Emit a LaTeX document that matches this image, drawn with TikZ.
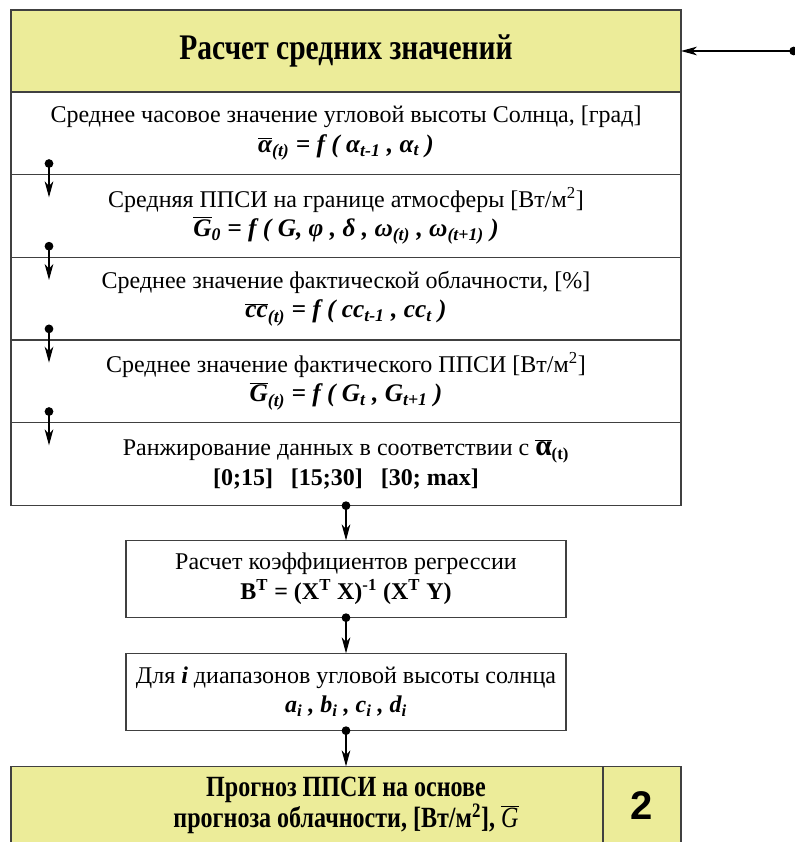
\documentclass[tikz,border=0pt]{standalone}
\usepackage{fontspec}
\setmainfont{Liberation Serif}
\newfontfamily\narrowfont{Liberation Serif}[FakeStretch=0.82]
\newfontfamily\digitfont{Liberation Sans}
\usetikzlibrary{positioning,arrows.meta}
\definecolor{headfill}{RGB}{236,236,153}
\newcommand{\ovl}[1]{$\overline{\hbox{#1}}$}
\newcommand{\sub}[1]{\textsubscript{#1}}

\begin{document}
\begin{tikzpicture}[x=0.75pt,y=-0.75pt,
    font=\fontsize{18}{22}\selectfont,
    every node/.style={inner sep=0pt, outer sep=0pt, align=center},
    bigbox/.style={draw=black!75, line width=0.9pt, minimum width=502.5pt},
    head/.style={bigbox, fill=headfill, minimum height=61.5pt, font=\narrowfont\bfseries\fontsize{27}{30}\selectfont},
    rowbox/.style={bigbox, minimum height=62pt},
    calcbox/.style={draw=black!75, line width=0.9pt, minimum width=330pt, minimum height=57.75pt},
    conn/.style={line width=0.8pt, shorten <=-3pt, {Circle[length=6.5pt]}-{Stealth[length=12pt,width=6.5pt,inset=3.5pt]}}]
    \useasboundingbox (0,0) rectangle (795,842);

    \node[head] (header) at (346,51) {Расчет средних значений};
    \node[rowbox, below=0pt of header] (r1) {Среднее часовое значение угловой высоты Солнца, [град]\\
        {\bfseries\itshape\fontsize{19}{22}\selectfont \ovl{α}\sub{(t)} = f ( α\sub{t-1} , α\sub{t} )}};
    \node[rowbox, below=0pt of r1] (r2) {Средняя ППСИ на границе атмосферы [Вт/м\textsuperscript{2}]\\
        {\bfseries\itshape\fontsize{19}{22}\selectfont \ovl{G}\sub{0} = f ( G, φ , δ , ω\sub{(t)} , ω\sub{(t+1)} )}};
    \node[rowbox, below=0pt of r2] (r3) {Среднее значение фактической облачности, [\%]\\
        {\bfseries\itshape\fontsize{19}{22}\selectfont \ovl{cc}\sub{(t)} = f ( cc\sub{t-1} , cc\sub{t} )}};
    \node[rowbox, below=0pt of r3] (r4) {Среднее значение фактического ППСИ [Вт/м\textsuperscript{2}]\\
        {\bfseries\itshape\fontsize{19}{22}\selectfont \ovl{G}\sub{(t)} = f ( G\sub{t} , G\sub{t+1} )}};
    \node[rowbox, below=0pt of r4] (r5) {Ранжирование данных в соответствии с {\fontsize{22}{22}\selectfont\ovl{\bfseries α}}\sub{\bfseries (t)}\\
        \textbf{[0;15] \ \ [15;30] \ \ [30; max]}};

    \node[calcbox, below=26.25pt of r5] (reg) {Расчет коэффициентов регрессии\\
        \textbf{B\textsuperscript{T} = (X\textsuperscript{T} X)\textsuperscript{-1} (X\textsuperscript{T} Y)}};
    \node[calcbox, below=27pt of reg] (rng) {Для \textbf{\textit{i}} диапазонов угловой высоты солнца\\
        {\bfseries\itshape a\sub{i} , b\sub{i} , c\sub{i} , d\sub{i}}};
    \node[bigbox, fill=headfill, minimum height=58.5pt, below=27pt of rng,
        font=\narrowfont\bfseries\fontsize{22}{21}\selectfont] (prog) {Прогноз ППСИ на основе\\
        прогноза облачности, [Вт/м\textsuperscript{2}], \ovl{\mdseries\itshape G}};
    \node[draw=black!75, line width=0.9pt, fill=headfill, minimum width=58.5pt, minimum height=58.5pt,
        anchor=north east, font=\digitfont\bfseries\fontsize{30}{30}\selectfont] (num) at (prog.north east) {2};

    % feedback input
    \coordinate (feed) at (794,51);
    \draw[conn] (feed) -- (header.east);

    % steps inside the box
    \foreach \i in {1,...,4}
        \draw[conn] ([xshift=28.5pt,yshift=8.6pt]r\i.south west) -- ([xshift=28.5pt,yshift=-17pt]r\i.south west);

    \draw[conn] (r5.south) -- (reg.north);
    \draw[conn] (reg.south) -- (rng.north);
    \draw[conn] (rng.south) -- (prog.north -| rng.south);
\end{tikzpicture}
\end{document}
